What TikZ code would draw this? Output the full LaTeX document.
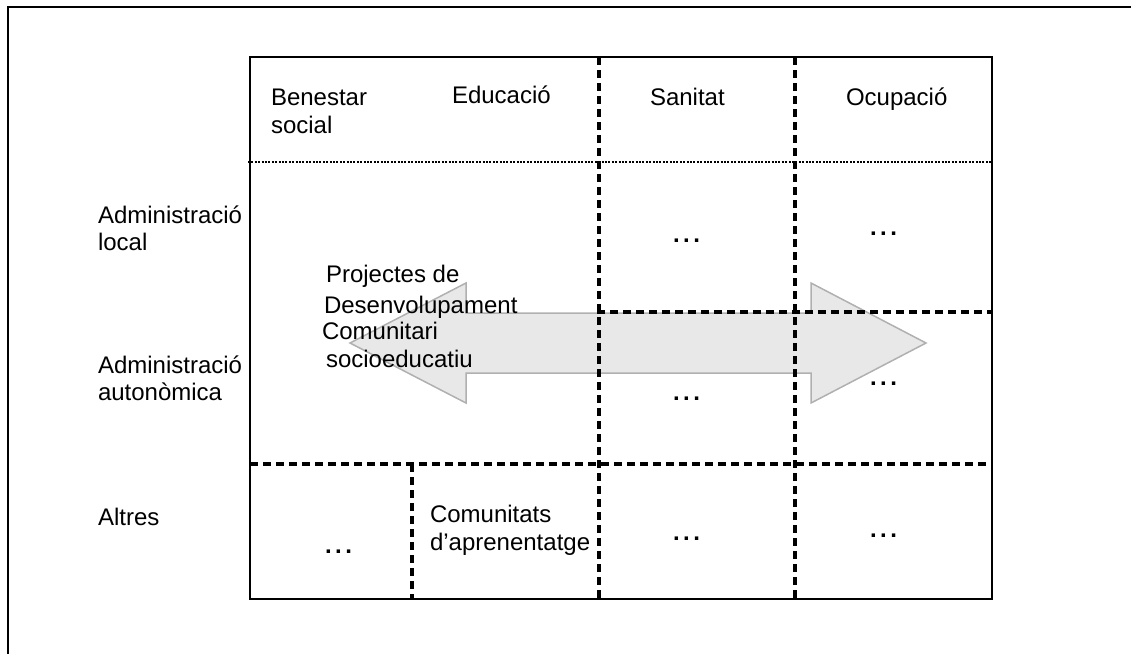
\documentclass[tikz,border=0pt]{standalone}
\usepackage{fontspec}
\setmainfont{Liberation Sans}
\definecolor{arrowfill}{HTML}{E8E8E8}
\definecolor{arrowline}{HTML}{B0B0B0}
\newcommand{\mydots}{.\kern3.5pt.\kern3.5pt.}
\begin{document}
\begin{tikzpicture}[x=1pt,y=-1pt,
  lbl/.style={anchor=base west,inner sep=0pt,outer sep=0pt,font=\fontsize{24}{28}\selectfont},
  dots/.style={lbl,font=\fontsize{24}{28}\selectfont\bfseries},
  dashline/.style={line width=3.2pt,dash pattern=on 8pt off 5pt},
  dotline/.style={line width=2pt,dash pattern=on 2pt off 1.4pt},
  bigarrow/.style={fill=arrowfill,draw=arrowline,line width=1.5pt,line join=miter}]
\useasboundingbox (0,0) rectangle (1131,653);
% outer frame
\draw[line width=1.8pt] (8,7) rectangle (1140,665);
% double arrow
\draw[bigarrow] (350,343) -- (466,283) -- (466,313) -- (811,313) -- (811,283)
  -- (926,343) -- (811,403) -- (811,373) -- (466,373) -- (466,403) -- cycle;
% table grid
\coordinate (tl) at (250,57);
\coordinate (br) at (992,599);
\draw[dotline] (248,162) -- (992,162);
\draw[dashline] (599,57) -- (599,599);
\draw[dashline] (795,57) -- (795,599);
\draw[dashline] (597,312) -- (992,312);
\draw[dashline] (250,464) -- (992,464);
\draw[dashline] (412,464) -- (412,599);
\draw[line width=2.4pt] (tl) rectangle (br);
% header texts
\node[lbl] (ben1) at (271,105) {Benestar};
\node[lbl] (ben2) at (271,133) {social};
\node[lbl] (edu) at (452,103) {Educació};
\node[lbl] (san) at (650,105) {Sanitat};
\node[lbl] (ocu) at (846,105) {Ocupació};
% row labels
\node[lbl] (al1) at (98,223) {Administració};
\node[lbl] (al2) at (98,250) {local};
\node[lbl] (aa1) at (98,373) {Administració};
\node[lbl] (aa2) at (98,400) {autonòmica};
\node[lbl] (alt) at (98,525) {Altres};
% arrow text
\node[lbl] (p1) at (326,282) {Projectes de};
\node[lbl] (p2) at (324,313) {Desenvolupament};
\node[lbl] (p3) at (322,339) {Comunitari};
\node[lbl] (p4) at (326,367) {socioeducatiu};
% bottom row
\node[lbl] (c1) at (430,522) {Comunitats};
\node[lbl] (c2) at (430,550) {d’aprenentatge};
% ellipses
\node[dots] (d1) at (673,242) {\mydots};
\node[dots] (d2) at (870,235) {\mydots};
\node[dots] (d3) at (673,400) {\mydots};
\node[dots] (d4) at (870,385) {\mydots};
\node[dots] (d5) at (325,553) {\mydots};
\node[dots] (d6) at (673,540) {\mydots};
\node[dots] (d7) at (870,537) {\mydots};
\end{tikzpicture}
\end{document}
